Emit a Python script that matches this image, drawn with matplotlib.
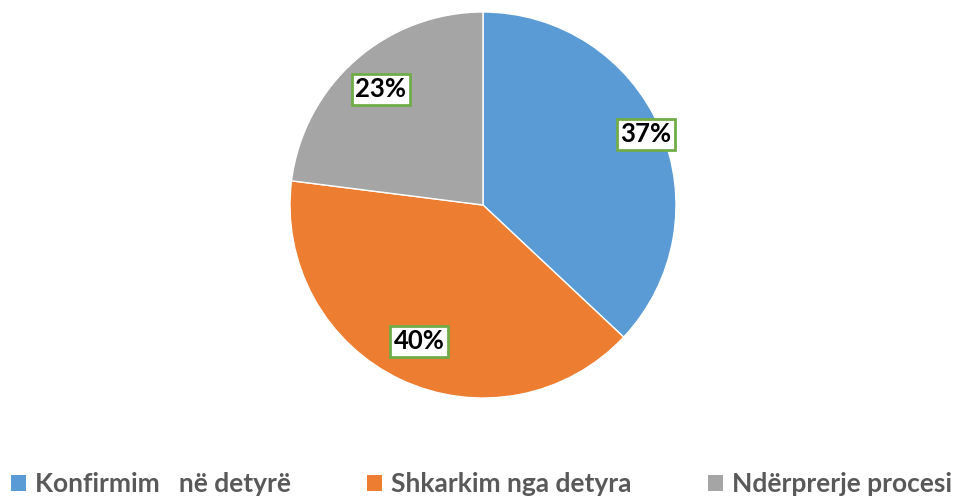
import matplotlib
matplotlib.use("Agg")
import matplotlib.pyplot as plt
import numpy as np

categories = ["Konfirmim   në detyrë", "Shkarkim nga detyra", "Ndërprerje procesi"]
values = [37, 40, 23]
colors = ["#5B9BD5", "#ED7D31", "#A5A5A5"]
label_dist = [0.92, 0.78, 0.80]

plt.rcParams['font.family'] = ['Lato', 'DejaVu Sans']

W, H = 963, 497
fig = plt.figure(figsize=(W / 100, H / 100), dpi=100)
cx, cy, r = 483, 205, 193
ax = fig.add_axes([(cx - r) / W, (H - cy - r) / H, 2 * r / W, 2 * r / H])

wedges, _ = ax.pie(values, colors=colors, startangle=90, counterclock=False,
                   wedgeprops=dict(edgecolor="white", linewidth=1.0))
ax.set_xlim(-1, 1)
ax.set_ylim(-1, 1)
ax.set_aspect("equal")

for w, v, d in zip(wedges, values, label_dist):
    ang = np.deg2rad((w.theta1 + w.theta2) / 2)
    ax.text(d * np.cos(ang), d * np.sin(ang), f"{v}%", ha="center", va="center",
            fontsize=18.5, fontweight="bold", color="black",
            bbox=dict(boxstyle="square,pad=0.14", facecolor="white",
                      edgecolor="#70AD47", linewidth=2))

leg = fig.legend(wedges, categories, loc="center", ncol=3,
                 bbox_to_anchor=(0.5, 1 - 484 / H), frameon=False,
                 prop=dict(family="Lato", weight="bold", size=19),
                 handlelength=0.55, handleheight=0.55, handletextpad=0.35,
                 columnspacing=2.9, labelcolor="#595959")
for h in leg.legend_handles:
    h.set_edgecolor("none")

fig.savefig("out.png", dpi=100)
